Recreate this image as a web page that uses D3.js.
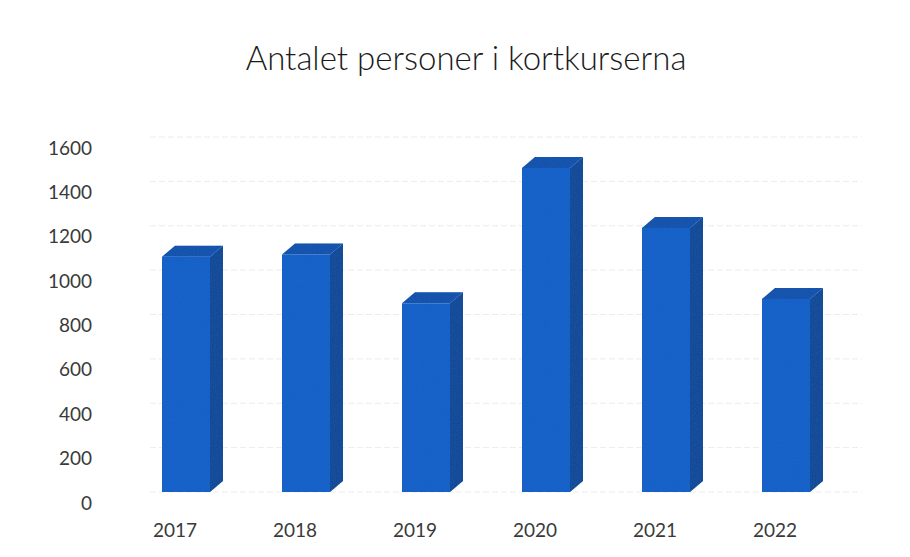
<!DOCTYPE html>
<html>
<head>
<meta charset="utf-8">
<script src="https://cdn.jsdelivr.net/npm/d3@7"></script>
<style>
  body { margin: 0; background: #fff; }
  svg text { font-family: Lato, "Open Sans", sans-serif; }
</style>
</head>
<body>
<div id="chart"></div>
<script>
// Data
const years = ["2017", "2018", "2019", "2020", "2021", "2022"];
const persons = [1110, 1120, 900, 1510, 1240, 920];
const yTicks = [0, 200, 400, 600, 800, 1000, 1200, 1400, 1600];
const title = "Antalet personer i kortkurserna";

const width = 910, height = 557;
const depthX = 13, depthY = 11; // 3D offset of the bars

const svg = d3.select("#chart")
    .append("svg")
    .attr("width", width)
    .attr("height", height);

svg.append("rect").attr("width", width).attr("height", height).attr("fill", "#fff");

// Title
svg.append("text")
    .attr("x", 466)
    .attr("y", 70)
    .attr("text-anchor", "middle")
    .attr("font-size", 33)
    .attr("font-weight", 300)
    .attr("fill", "#1a1a1a")
    .text(title);

// Scales
const x = d3.scaleBand()
    .domain(years)
    .range([132, 840])
    .paddingInner(0.6)
    .paddingOuter(0.25);

const y = d3.scaleLinear()
    .domain([0, 1600])
    .range([503, 148]);

// faint back-wall gridlines
svg.append("g")
    .selectAll("line")
    .data(yTicks)
    .join("line")
    .attr("x1", 150)
    .attr("x2", 862)
    .attr("y1", d => y(d) - depthY)
    .attr("y2", d => y(d) - depthY)
    .attr("stroke", "#ececec")
    .attr("stroke-width", 1)
    .attr("stroke-dasharray", "6,3");

// Y axis labels
const yAxis = svg.append("g")
    .attr("transform", "translate(98,0)")
    .call(d3.axisLeft(y).tickValues(yTicks).tickFormat(d3.format("d")).tickSize(0).tickPadding(6));
yAxis.select(".domain").remove();
yAxis.selectAll("text")
    .attr("font-size", 19)
    .attr("fill", "#3a3a3a")
    .attr("font-family", "Lato, 'Open Sans', sans-serif");

// X axis labels
const xAxis = svg.append("g")
    .attr("transform", "translate(-11,521)")
    .call(d3.axisBottom(x).tickSize(0).tickPadding(2));
xAxis.select(".domain").remove();
xAxis.selectAll("text")
    .attr("font-size", 19)
    .attr("fill", "#3a3a3a")
    .attr("font-family", "Lato, 'Open Sans', sans-serif");

// texture filter to mimic the scanned look
const defs = svg.append("defs");
const f = defs.append("filter").attr("id", "grain");
f.append("feTurbulence").attr("type", "fractalNoise").attr("baseFrequency", 0.9).attr("numOctaves", 2).attr("result", "n");
f.append("feColorMatrix").attr("in", "n").attr("type", "matrix")
    .attr("values", "0 0 0 0 0  0 0 0 0 0.2  0 0 0 0 0.6  0 0 0 0.35 0").attr("result", "cn");
f.append("feComposite").attr("in", "cn").attr("in2", "SourceGraphic").attr("operator", "in").attr("result", "g");
const m = f.append("feMerge");
m.append("feMergeNode").attr("in", "SourceGraphic");
m.append("feMergeNode").attr("in", "g");

// 3D bars
const floor = y(0) - depthY;
const bars = svg.append("g")
    .selectAll("g")
    .data(years.map((yr, i) => ({ year: yr, value: persons[i] })))
    .join("g")
    .attr("filter", "url(#grain)");

// side face
bars.append("path")
    .attr("fill", "#1a3d8c")
    .attr("d", d => {
        const x1 = x(d.year) + x.bandwidth();
        const t = y(d.value);
        return `M${x1},${t}L${x1 + depthX},${t - depthY}L${x1 + depthX},${floor - depthY}L${x1},${floor}Z`;
    });

// top face
bars.append("path")
    .attr("fill", "#1c4aa6")
    .attr("d", d => {
        const x0 = x(d.year), x1 = x0 + x.bandwidth();
        const t = y(d.value);
        return `M${x0},${t}L${x0 + depthX},${t - depthY}L${x1 + depthX},${t - depthY}L${x1},${t}Z`;
    });

// front face
bars.append("rect")
    .attr("fill", "#1e5bc8")
    .attr("x", d => x(d.year))
    .attr("width", x.bandwidth())
    .attr("y", d => y(d.value))
    .attr("height", d => floor - y(d.value));
</script>
</body>
</html>
